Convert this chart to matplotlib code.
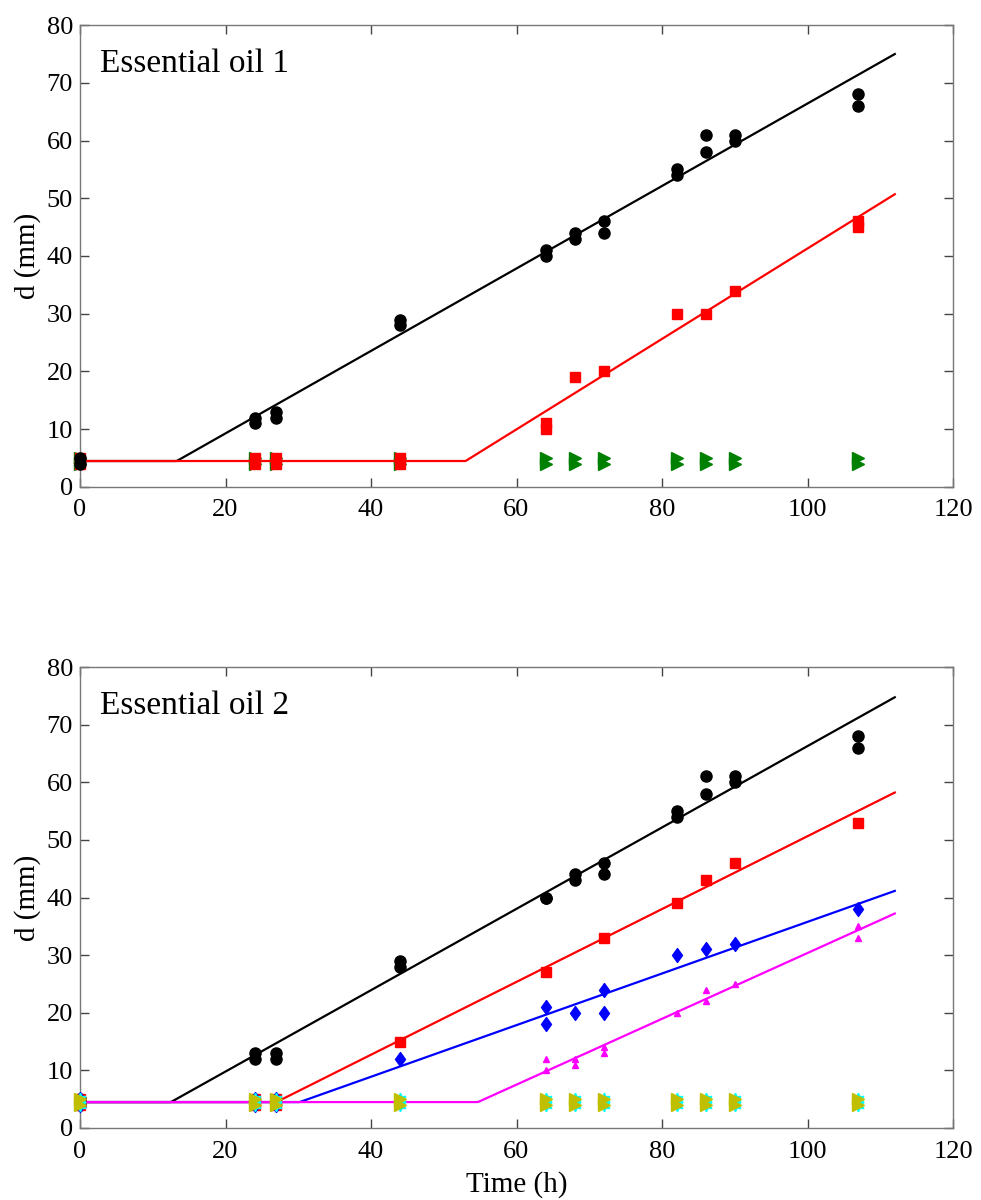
import matplotlib
matplotlib.use("Agg")
from matplotlib import pyplot as plt
from matplotlib.path import Path
import numpy as np

plt.rcParams['font.family'] = ['Liberation Serif', 'DejaVu Serif']

# sampling times (h)
t_black = [0, 0, 24, 24, 27, 27, 44, 44, 64, 64, 68, 68, 72, 72,
           82, 82, 86, 86, 90, 90, 107, 107]
t_rep = [0, 0, 24, 24, 27, 27, 44, 44, 64, 64, 68, 68, 72, 72,
         82, 82, 86, 86, 90, 90, 107, 107]

# Essential oil 1
oil1_black = [4, 5, 11, 12, 12, 13, 28, 29, 40, 41, 43, 44, 44, 46,
              54, 55, 58, 61, 60, 61, 66, 68]
oil1_red_t = [0, 0, 24, 24, 27, 27, 44, 44, 64, 64, 68, 72, 82, 86, 90, 107, 107]
oil1_red = [4, 5, 4, 5, 4, 5, 4, 5, 10, 11, 19, 20, 30, 30, 34, 45, 46]
oil1_green = [4, 5] * 11

# Essential oil 2
oil2_black = [4, 5, 12, 13, 12, 13, 28, 29, 40, 40, 43, 44, 44, 46,
              54, 55, 58, 61, 60, 61, 66, 68]
oil2_red_t = [0, 0, 24, 24, 27, 27, 44, 64, 72, 82, 86, 90, 107]
oil2_red = [4, 5, 4, 5, 4, 5, 15, 27, 33, 39, 43, 46, 53]
oil2_blue_t = [0, 0, 24, 24, 27, 27, 44, 64, 64, 68, 72, 72, 82, 86, 90, 107]
oil2_blue = [4, 5, 4, 5, 4, 5, 12, 18, 21, 20, 20, 24, 30, 31, 32, 38]
oil2_mag_t = [0, 0, 24, 24, 27, 27, 44, 44, 64, 64, 68, 68, 72, 72,
              82, 86, 86, 90, 107, 107]
oil2_mag = [4, 5, 4, 5, 4, 5, 4, 5, 10, 12, 11, 12, 13, 14,
            20, 22, 24, 25, 33, 35]
oil2_zero = [4, 5] * 11

# lag-linear fits: (lag time h, growth rate mm/h)
d0 = 4.5
fit1 = {'k': (13.3, 0.714), 'r': (53.0, 0.783)}
fit2 = {'k': (12.5, 0.706), 'r': (27.0, 0.632),
        'b': (30.2, 0.448), 'm': (54.7, 0.571)}

tt = np.linspace(0, 112, 500)

# matlab-like diamond (wider than mpl 'd')
diamond = Path([(0, 1), (0.72, 0), (0, -1), (-0.72, 0), (0, 1)],
               [Path.MOVETO, Path.LINETO, Path.LINETO, Path.LINETO, Path.CLOSEPOLY])


def lag_line(lag, rate):
    return np.where(tt < lag, d0, d0 + rate * (tt - lag))


def style_ax(ax, label):
    ax.set_xlim(0, 120)
    ax.set_ylim(0, 80)
    ax.set_xticks(range(0, 121, 20))
    ax.set_yticks(range(0, 81, 10))
    ax.tick_params(labelsize=19, direction='in', length=6.5, width=1,
                   color='#444444', top=True, right=True)
    ax.tick_params(axis='x', pad=9)
    ax.tick_params(axis='y', pad=5)
    for s in ax.spines.values():
        s.set_color('#777777')
        s.set_linewidth(1)
    ax.set_ylabel('d (mm)', fontsize=21, labelpad=4)
    ax.text(0.023, 0.898, label, transform=ax.transAxes, fontsize=24,
            va='baseline', ha='left')


fig = plt.figure(figsize=(9.81, 12), dpi=100)
ax1 = fig.add_axes([80 / 981, 1 - 487 / 1200, 873 / 981, 462 / 1200])
ax2 = fig.add_axes([80 / 981, 1 - 1128 / 1200, 873 / 981, 461 / 1200])

# top panel
ax1.plot(t_rep, oil1_green, '>', color='green', ms=8, clip_on=False, zorder=3)
ax1.plot(oil1_red_t, oil1_red, 's', color='red', ms=7, clip_on=False, zorder=4)
ax1.plot(t_black, oil1_black, 'o', color='black', ms=8, clip_on=False, zorder=4)
ax1.plot(tt, lag_line(*fit1['k']), color='black', lw=1.6, zorder=2)
ax1.plot(tt, lag_line(*fit1['r']), color='red', lw=1.6, zorder=3)
style_ax(ax1, 'Essential oil 1')

# bottom panel
ax2.plot(t_black, oil2_black, 'o', color='black', ms=8, clip_on=False, zorder=4)
ax2.plot(oil2_red_t, oil2_red, 's', color='red', ms=7, clip_on=False, zorder=4)
ax2.plot(oil2_blue_t, oil2_blue, marker=diamond, ls='none', color='blue', ms=10,
         clip_on=False, zorder=4)
ax2.plot(oil2_mag_t, oil2_mag, '^', color='magenta', ms=5, clip_on=False, zorder=4)
ax2.plot(t_rep, oil2_zero, marker=(6, 1, 0), ls='none', color='cyan', ms=9,
         clip_on=False, zorder=5)
ax2.plot(t_rep, oil2_zero, '>', color='#bfbf00', ms=8, clip_on=False, zorder=6)
ax2.plot(tt, lag_line(*fit2['k']), color='black', lw=1.6, zorder=2)
ax2.plot(tt, lag_line(*fit2['r']), color='red', lw=1.6, zorder=3)
ax2.plot(tt, lag_line(*fit2['b']), color='blue', lw=1.6, zorder=3)
ax2.plot(tt, lag_line(*fit2['m']), color='magenta', lw=1.6, zorder=3)
style_ax(ax2, 'Essential oil 2')
ax2.set_xlabel('Time (h)', fontsize=21, labelpad=6)

fig.savefig('out.png', dpi=100)
